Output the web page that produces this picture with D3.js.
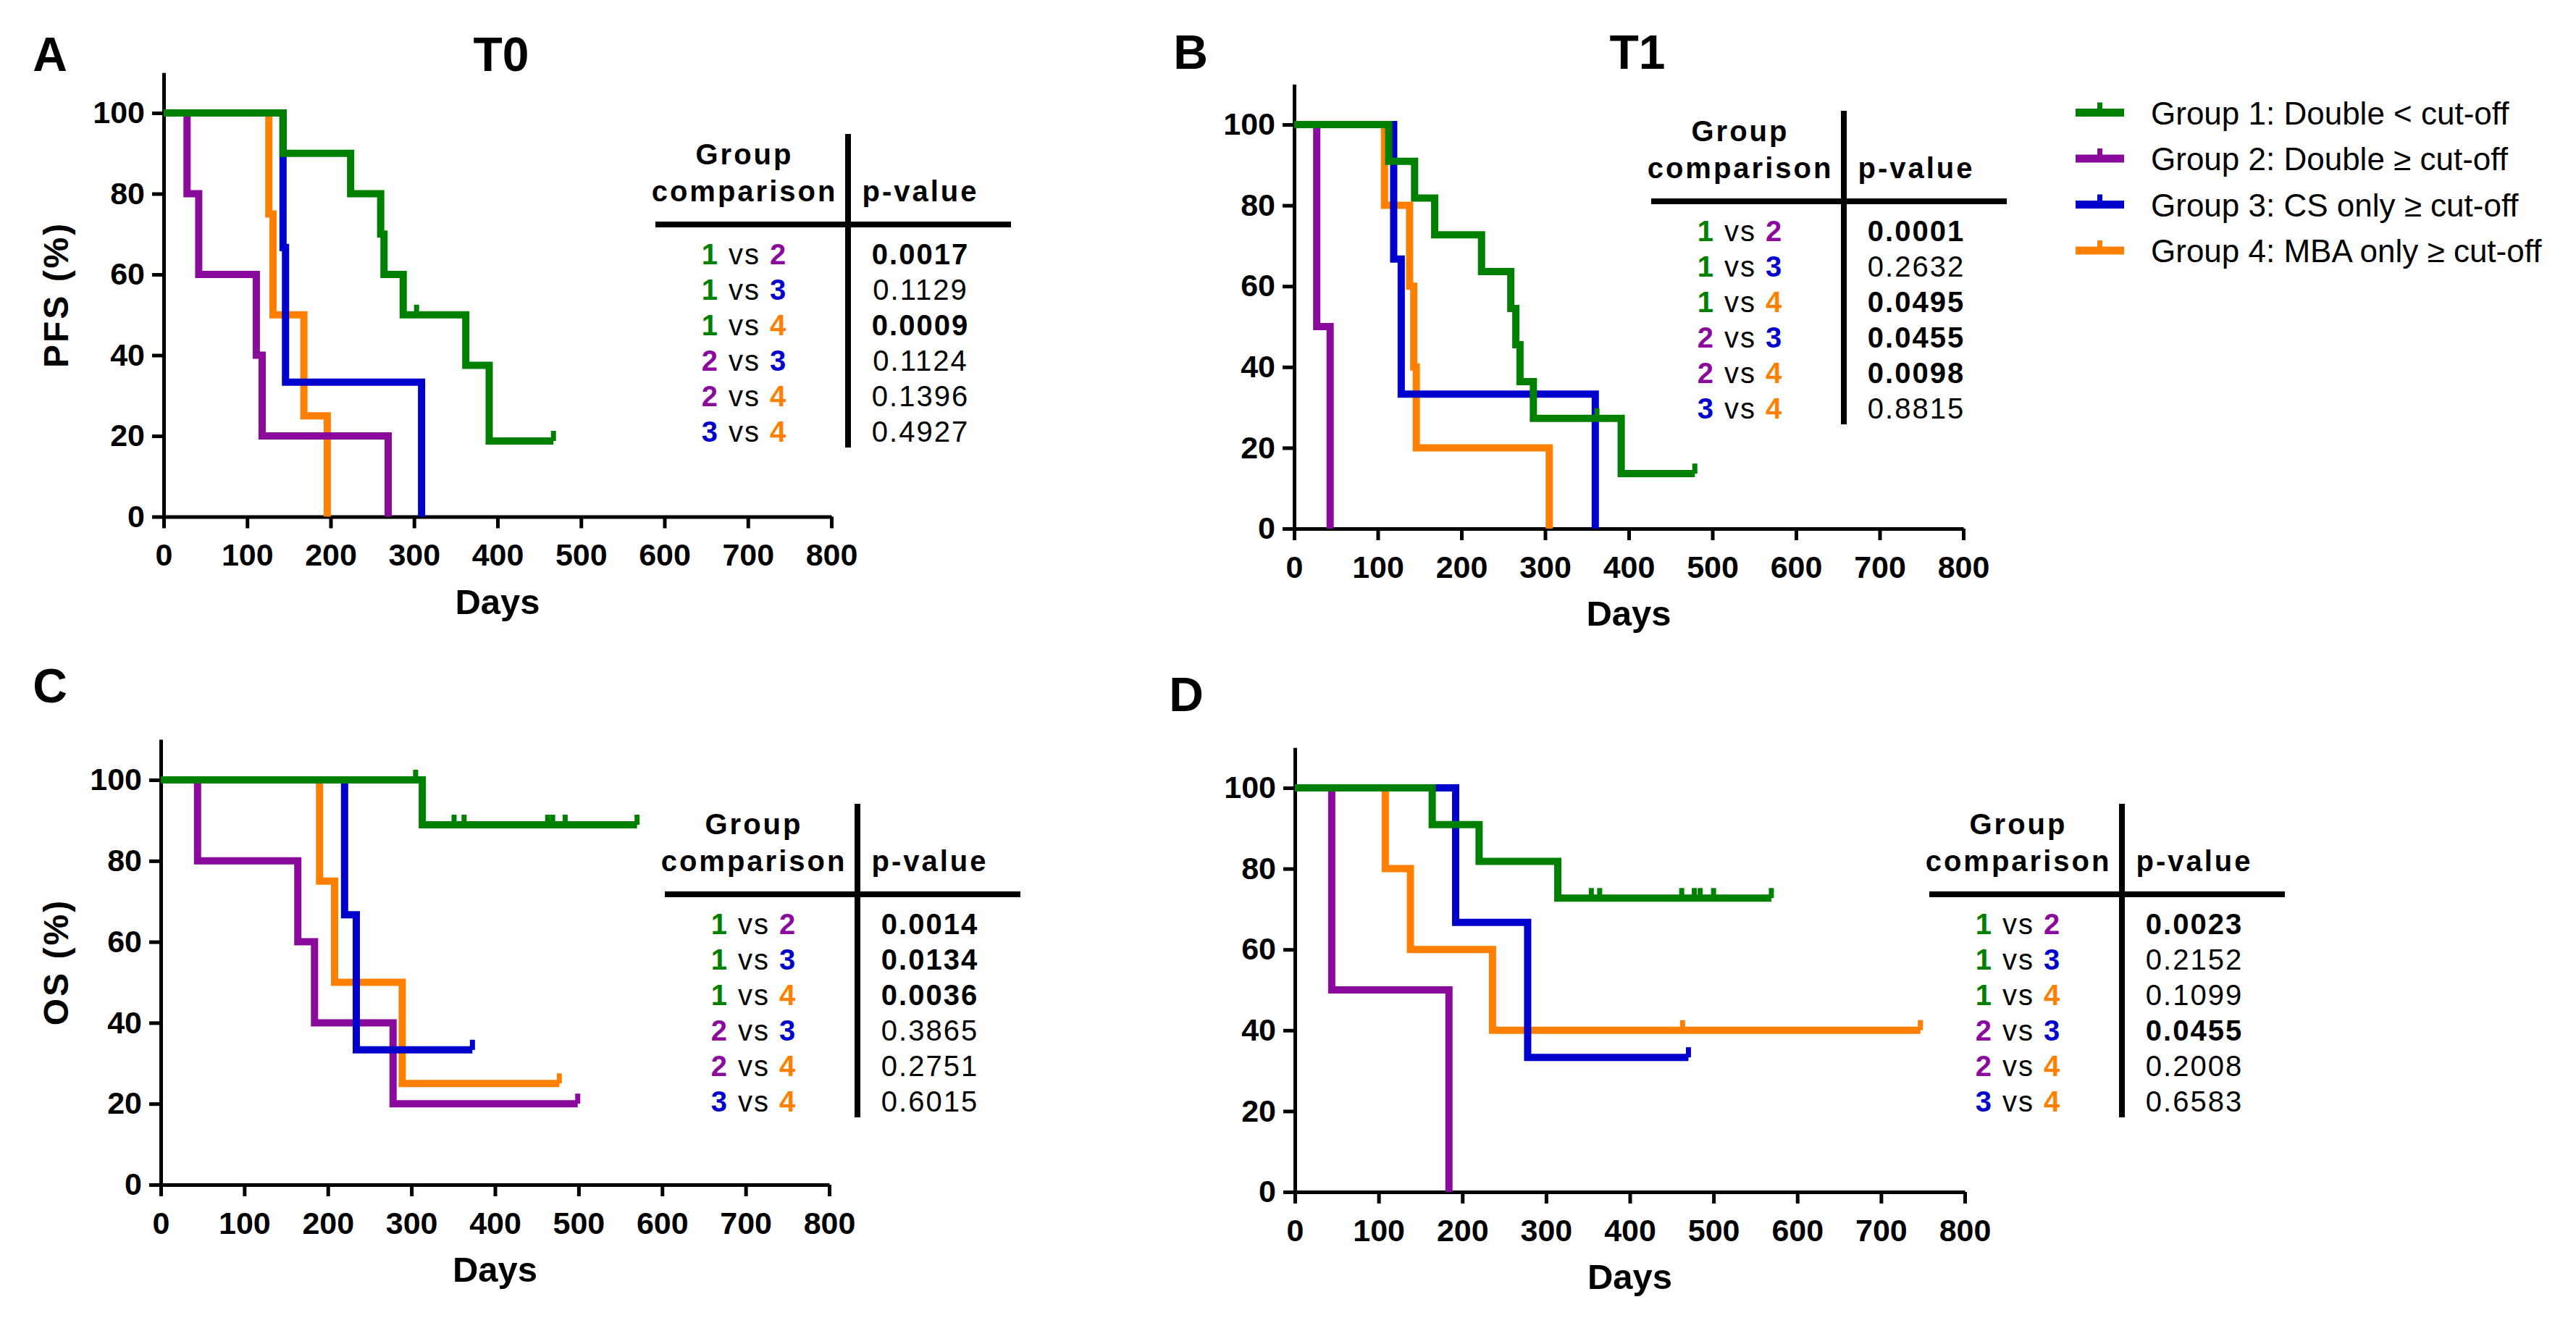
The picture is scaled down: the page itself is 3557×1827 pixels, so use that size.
<!DOCTYPE html>
<html>
<head>
<meta charset="utf-8">
<script src="https://cdn.jsdelivr.net/npm/d3@7"></script>
<style>
  body { margin: 0; background: #fff; }
  text { font-family: "Liberation Sans", Arial, sans-serif; }
</style>
</head>
<body>
<div class="canvas"></div>
<script>
const groupNames = ['Group 1: Double < cut-off', 'Group 2: Double \u2265 cut-off',
    'Group 3: CS only \u2265 cut-off', 'Group 4: MBA only \u2265 cut-off'];
const groupColors = ['#008000', '#8a0a9c', '#0000cc', '#ff8000'];
const xTicks = [0, 100, 200, 300, 400, 500, 600, 700, 800];
const yTicks = [0, 20, 40, 60, 80, 100];
const comparisons = [[1, 2], [1, 3], [1, 4], [2, 3], [2, 4], [3, 4]];

// KM steps per group: [day, survival %]; censored days per group
const pfsT0Steps = [
    [[0, 100], [143, 90], [224, 80], [260, 70], [264, 60], [287, 50], [362, 37.5], [390, 18.75]],
    [[0, 100], [28, 80], [42, 60], [111, 40], [118, 20], [269, 0]],
    [[0, 100], [143, 66.7], [146, 33.3], [309, 0]],
    [[0, 100], [126, 75], [131, 50], [168, 25], [196, 0]]
];
const pfsT0Censor = [[303, 467], [], [], []];

const pfsT1Steps = [
    [[0, 100], [113, 90.9], [144, 81.8], [168, 72.7], [224, 63.6], [259, 54.5], [265, 45.5], [270, 36.4], [286, 27.3], [391, 13.6]],
    [[0, 100], [27, 50], [43, 0]],
    [[0, 100], [119, 66.7], [128, 33.3], [360, 0]],
    [[0, 100], [108, 80], [138, 60], [143, 40], [146, 20], [305, 0]]
];
const pfsT1Censor = [[362, 479], [], [], []];

const osT0Steps = [
    [[0, 100], [313, 88.9]],
    [[0, 100], [44, 80], [164, 60], [184, 40], [278, 20]],
    [[0, 100], [220, 66.7], [234, 33.3]],
    [[0, 100], [190, 75], [208, 50], [289, 25]]
];
const osT0Censor = [[305, 351, 363, 463, 469, 484, 570], [499], [373], [477]];

const osT1Steps = [
    [[0, 100], [164, 90.9], [220, 81.8], [314, 72.7]],
    [[0, 100], [44, 50], [184, 0]],
    [[0, 100], [192, 66.7], [278, 33.3]],
    [[0, 100], [108, 80], [138, 60], [236, 40]]
];
const osT1Censor = [[354, 364, 462, 477, 484, 500, 569], [], [470], [463, 747]];

// log-rank p-values, same order as comparisons
const pfsT0P = [0.0017, 0.1129, 0.0009, 0.1124, 0.1396, 0.4927];
const pfsT1P = [0.0001, 0.2632, 0.0495, 0.0455, 0.0098, 0.8815];
const osT0P = [0.0014, 0.0134, 0.0036, 0.3865, 0.2751, 0.6015];
const osT1P = [0.0023, 0.2152, 0.1099, 0.0455, 0.2008, 0.6583];

const dimentions = { width: 3557, height: 1827 };

const panels = [
    { letter: 'A', title: 'T0', ylab: 'PFS (%)', left: 226, right: 1148, y0: 713.5, y100: 156,
      lx: 69, ly: 98, tx: 692, ty: 98, tab: [1171, 310], steps: pfsT0Steps, cens: pfsT0Censor, p: pfsT0P },
    { letter: 'B', title: 'T1', ylab: null, left: 1787, right: 2711, y0: 730, y100: 172,
      lx: 1644, ly: 95, tx: 2261, ty: 95, tab: [2546, 278], steps: pfsT1Steps, cens: pfsT1Censor, p: pfsT1P },
    { letter: 'C', title: null, ylab: 'OS (%)', left: 222, right: 1145, y0: 1636, y100: 1077,
      lx: 69, ly: 970, tab: [1184, 1235], steps: osT0Steps, cens: osT0Censor, p: osT0P },
    { letter: 'D', title: null, ylab: null, left: 1788, right: 2713, y0: 1646, y100: 1088,
      lx: 1638, ly: 982, tab: [2930, 1235], steps: osT1Steps, cens: osT1Censor, p: osT1P }
];

const svg = d3.select('.canvas')
    .append('svg')
    .attr('width', dimentions.width)
    .attr('height', dimentions.height)
    .style('background', '#fff');

// draw order: orange, purple, blue, green on top
const drawOrder = [3, 1, 2, 0];

panels.forEach(pn => {
    const g = svg.append('g');
    const x = d3.scaleLinear().domain([0, 800]).range([pn.left, pn.right]);
    const y = d3.scaleLinear().domain([0, 100]).range([pn.y0, pn.y100]);

    // axes
    const xAxis = g.append('g')
        .attr('transform', `translate(0, ${pn.y0})`)
        .call(d3.axisBottom(x).tickValues(xTicks).tickSize(16).tickSizeOuter(0).tickPadding(21));
    const yAxis = g.append('g')
        .attr('transform', `translate(${pn.left}, 0)`)
        .call(d3.axisLeft(y.copy().domain([0, 110]).range([pn.y0, pn.y0 - (pn.y0 - pn.y100) * 1.1]))
            .tickValues(yTicks).tickSize(16).tickSizeOuter(0).tickPadding(10));
    [xAxis, yAxis].forEach(ax => {
        ax.selectAll('path, line').attr('stroke', '#000').attr('stroke-width', 5);
        ax.selectAll('text')
            .attr('font-family', '"Liberation Sans", Arial, sans-serif')
            .attr('font-size', 43).attr('font-weight', 'bold').attr('fill', '#000');
    });

    g.append('text')
        .attr('x', (pn.left + pn.right) / 2).attr('y', pn.y0 + 134)
        .attr('text-anchor', 'middle').attr('font-size', 49).attr('font-weight', 'bold')
        .text('Days');

    if (pn.ylab) {
        g.append('text')
            .attr('transform', `translate(77, ${pn.y0 - (pn.y0 - pn.y100) * 0.55}) rotate(-90)`)
            .attr('text-anchor', 'middle').attr('dy', '0.36em')
            .attr('font-size', 48).attr('font-weight', 'bold').attr('letter-spacing', 3)
            .text(pn.ylab);
    }

    g.append('text')
        .attr('x', pn.lx).attr('y', pn.ly).attr('text-anchor', 'middle')
        .attr('font-size', 66).attr('font-weight', 'bold').text(pn.letter);
    if (pn.title) {
        g.append('text')
            .attr('x', pn.tx).attr('y', pn.ty).attr('text-anchor', 'middle')
            .attr('font-size', 66).attr('font-weight', 'bold').text(pn.title);
    }

    // KM curves
    const line = d3.line().x(d => x(d[0])).y(d => y(d[1])).curve(d3.curveStepAfter);
    drawOrder.forEach(gi => {
        const steps = pn.steps[gi];
        const cens = pn.cens[gi];
        const last = steps[steps.length - 1];
        const end = d3.max([last[0], ...cens]);
        const pts = steps.slice();
        if (end > last[0]) pts.push([end, last[1]]);

        g.append('path')
            .attr('d', line(pts))
            .attr('fill', 'none')
            .attr('stroke', groupColors[gi])
            .attr('stroke-width', 10)
            .attr('stroke-linejoin', 'miter');

        const survAt = t => steps.filter(s => s[0] <= t).pop()[1];
        g.selectAll(null)
            .data(cens)
            .enter()
            .append('line')
            .attr('x1', d => x(d)).attr('x2', d => x(d))
            .attr('y1', d => y(survAt(d)) - 14)
            .attr('y2', d => y(survAt(d)))
            .attr('stroke', groupColors[gi])
            .attr('stroke-width', 7);
    });

    // comparison table
    const [vx, hy] = pn.tab;
    const rowY0 = hy + 55;
    const rowGap = 49;
    g.append('line')
        .attr('x1', vx).attr('x2', vx)
        .attr('y1', hy - 125).attr('y2', rowY0 + rowGap * 5 + 8)
        .attr('stroke', '#000').attr('stroke-width', 8);
    g.append('line')
        .attr('x1', vx - 266).attr('x2', vx + 225)
        .attr('y1', hy).attr('y2', hy)
        .attr('stroke', '#000').attr('stroke-width', 8);

    const head = g.append('g').attr('font-size', 40).attr('font-weight', 'bold')
        .attr('letter-spacing', 3).attr('text-anchor', 'middle');
    head.append('text').attr('x', vx - 143).attr('y', hy - 83).text('Group');
    head.append('text').attr('x', vx - 143).attr('y', hy - 32).text('comparison');
    head.append('text').attr('x', vx + 100).attr('y', hy - 32).text('p-value');

    comparisons.forEach((c, i) => {
        const t = g.append('text')
            .attr('x', vx - 143).attr('y', rowY0 + i * rowGap)
            .attr('text-anchor', 'middle').attr('font-size', 40).attr('letter-spacing', 2);
        t.append('tspan').attr('font-weight', 'bold').attr('fill', groupColors[c[0] - 1]).text(c[0]);
        t.append('tspan').attr('fill', '#000').text(' vs ');
        t.append('tspan').attr('font-weight', 'bold').attr('fill', groupColors[c[1] - 1]).text(c[1]);

        g.append('text')
            .attr('x', vx + 100).attr('y', rowY0 + i * rowGap)
            .attr('text-anchor', 'middle').attr('font-size', 40).attr('letter-spacing', 2)
            .attr('font-weight', pn.p[i] < 0.05 ? 'bold' : 'normal')
            .text(pn.p[i].toFixed(4));
    });
});

// legend
const legend = svg.append('g');
groupNames.forEach((name, i) => {
    const cy = 155.5 + i * 63.5;
    legend.append('line')
        .attr('x1', 2866).attr('x2', 2933).attr('y1', cy).attr('y2', cy)
        .attr('stroke', groupColors[i]).attr('stroke-width', 11);
    legend.append('line')
        .attr('x1', 2899.5).attr('x2', 2899.5).attr('y1', cy - 14).attr('y2', cy)
        .attr('stroke', groupColors[i]).attr('stroke-width', 7);
    legend.append('text')
        .attr('x', 2970).attr('y', cy + 16)
        .attr('font-size', 44)
        .text(name);
});
</script>
</body>
</html>
